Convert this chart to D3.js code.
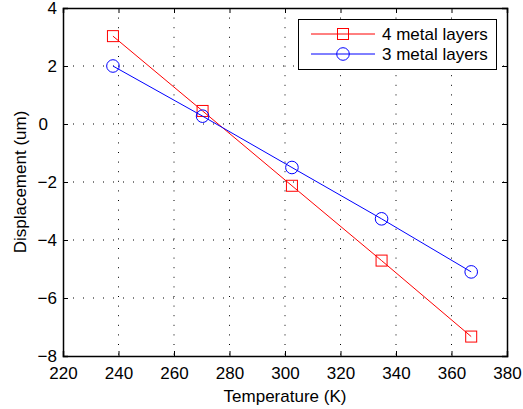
<!DOCTYPE html>
<html>
<head>
<meta charset="utf-8">
<script src="https://cdn.jsdelivr.net/npm/d3@7"></script>
<style>
  body { margin: 0; background: #fff; }
  text { font-family: "Liberation Sans", Arial, sans-serif; }
</style>
</head>
<body>
<div id="chart-area"></div>
<script>
// data
const temps = [238, 270.3, 302.5, 334.8, 367.1];
const fourLayers = [3.03, 0.45, -2.13, -4.71, -7.33];
const threeLayers = [2.0, 0.27, -1.5, -3.27, -5.1];
const xTicks = [220, 240, 260, 280, 300, 320, 340, 360, 380];
const yTicks = [-8, -6, -4, -2, 0, 2, 4];

const width = 523, height = 409;
const margin = { left: 63, right: 16, top: 8, bottom: 53 };

const svg = d3
  .select("#chart-area")
  .append("svg")
  .attr("width", width)
  .attr("height", height);

const x = d3.scaleLinear().domain([220, 380]).range([margin.left, width - margin.right]);
const y = d3.scaleLinear().domain([-8, 4]).range([height - margin.bottom, margin.top]);

const fmt = (d) => (d < 0 ? "\u2212" + Math.abs(d) : "" + d);

// dotted grid
svg.append("g")
  .selectAll("line")
  .data(xTicks.slice(1, -1))
  .enter()
  .append("line")
  .attr("x1", (d) => x(d)).attr("x2", (d) => x(d))
  .attr("y1", y(4)).attr("y2", y(-8))
  .attr("stroke", "#000").attr("stroke-width", 1)
  .attr("stroke-dasharray", "1,8.6");

svg.append("g")
  .selectAll("line")
  .data(yTicks.slice(1, -1))
  .enter()
  .append("line")
  .attr("y1", (d) => y(d)).attr("y2", (d) => y(d))
  .attr("x1", x(220)).attr("x2", x(380))
  .attr("stroke", "#000").attr("stroke-width", 1)
  .attr("stroke-dasharray", "1,9");

// axes, ticks inside
const tl = 5;
svg.append("g")
  .attr("transform", `translate(0,${y(-8)})`)
  .call(d3.axisBottom(x).tickValues(xTicks).tickSize(-tl).tickPadding(11).tickFormat(fmt));
svg.append("g")
  .attr("transform", `translate(0,${y(4)})`)
  .call(d3.axisTop(x).tickValues(xTicks).tickSize(-tl).tickFormat(""));
const yAxis = svg.append("g")
  .attr("transform", `translate(${x(220)},0)`)
  .call(d3.axisLeft(y).tickValues(yTicks).tickSize(-tl).tickPadding(6).tickFormat(fmt));
svg.append("g")
  .attr("transform", `translate(${x(380)},0)`)
  .call(d3.axisRight(y).tickValues(yTicks).tickSize(-tl).tickFormat(""));

// matlab leaves the zero label a little left of the others
yAxis.selectAll(".tick text").filter((d) => d === 0).attr("dx", -9);

svg.selectAll(".domain").attr("stroke", "#000").attr("stroke-width", 1.5);
svg.selectAll(".tick line").attr("stroke", "#000");
svg.selectAll(".tick text")
  .attr("font-size", 17)
  .attr("fill", "#000")
  .style("font-family", "Liberation Sans, Arial, sans-serif");

// labels
svg.append("text")
  .attr("x", x(300)).attr("y", 402)
  .attr("text-anchor", "middle")
  .attr("font-size", 17)
  .text("Temperature (K)");
svg.append("text")
  .attr("transform", `translate(26,${y(-2)}) rotate(-90)`)
  .attr("text-anchor", "middle")
  .attr("font-size", 17)
  .text("Displacement (um)");

const line = d3.line().x((d) => x(d[0])).y((d) => y(d[1]));
const series = [
  { name: "4 metal layers", color: "#ff0000", values: fourLayers, marker: "square" },
  { name: "3 metal layers", color: "#0000ff", values: threeLayers, marker: "circle" },
];

function drawMarker(g, s, cx, cy) {
  if (s.marker === "square") {
    g.append("rect")
      .attr("x", cx - 5.5).attr("y", cy - 5.5)
      .attr("width", 11).attr("height", 11)
      .attr("fill", "none").attr("stroke", s.color);
  } else {
    g.append("circle")
      .attr("cx", cx).attr("cy", cy).attr("r", 6.3)
      .attr("fill", "none").attr("stroke", s.color);
  }
}

series.forEach((s) => {
  const pts = temps.map((t, i) => [t, s.values[i]]);
  svg.append("path")
    .attr("d", line(pts))
    .attr("fill", "none")
    .attr("stroke", s.color)
    .attr("stroke-width", 1);
  const g = svg.append("g");
  pts.forEach((p) => drawMarker(g, s, x(p[0]), y(p[1])));
});

// legend
const lg = svg.append("g");
lg.append("rect")
  .attr("x", 298.5).attr("y", 19.5)
  .attr("width", 198).attr("height", 50)
  .attr("fill", "#fff").attr("stroke", "#000").attr("stroke-width", 1);
series.forEach((s, i) => {
  const ly = 34 + i * 20;
  lg.append("line")
    .attr("x1", 311).attr("x2", 375)
    .attr("y1", ly).attr("y2", ly)
    .attr("stroke", s.color);
  drawMarker(lg, s, 343, ly);
  lg.append("text")
    .attr("x", 382).attr("y", ly + 6)
    .attr("font-size", 17)
    .text(s.name);
});
</script>
</body>
</html>
